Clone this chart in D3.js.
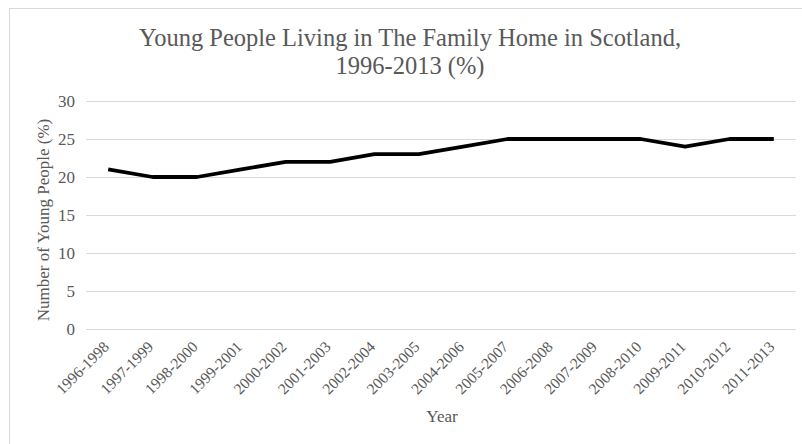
<!DOCTYPE html>
<html>
<head>
<meta charset="utf-8">
<script src="https://cdn.jsdelivr.net/npm/d3@7"></script>
<style>
  body { margin: 0; background: #fff; }
</style>
</head>
<body>
<div id="chart"></div>
<script>
var periods = ['1996-1998', '1997-1999', '1998-2000', '1999-2001', '2000-2002', '2001-2003',
               '2002-2004', '2003-2005', '2004-2006', '2005-2007', '2006-2008', '2007-2009',
               '2008-2010', '2009-2011', '2010-2012', '2011-2013'];
var percents = [21, 20, 20, 21, 22, 22, 23, 23, 24, 25, 25, 25, 25, 24, 25, 25];
var yTicks = [0, 5, 10, 15, 20, 25, 30];

var width = 802, height = 444;
var margin = {top: 101, right: 6, bottom: 115, left: 86};
var serif = '"Liberation Serif", "Times New Roman", serif';
var grey = '#595959';

var svg = d3.select('#chart').append('svg')
            .attr('width', width)
            .attr('height', height);

// outer chart border
svg.append('rect')
   .attr('x', 9.5).attr('y', 8.5)
   .attr('width', width + 10).attr('height', height + 10)
   .style('fill', 'none')
   .style('stroke', '#d9d9d9');

var x = d3.scaleBand()
          .domain(periods)
          .range([margin.left, width - margin.right]);

var y = d3.scaleLinear()
          .domain([0, 30])
          .range([height - margin.bottom, margin.top]);

// gridlines
svg.append('g')
   .selectAll('line')
   .data(yTicks)
   .enter()
   .append('line')
   .attr('x1', margin.left)
   .attr('x2', width - margin.right)
   .attr('y1', function(d) { return Math.round(y(d)) + 0.5; })
   .attr('y2', function(d) { return Math.round(y(d)) + 0.5; })
   .style('stroke', '#d9d9d9')
   .style('stroke-width', 1);

// y axis labels
var yAxis = svg.append('g')
   .attr('transform', 'translate(' + (margin.left - 11) + ',0)')
   .call(d3.axisLeft(y).tickValues(yTicks).tickSize(0).tickPadding(0));
yAxis.select('.domain').remove();
yAxis.selectAll('text')
     .style('font-size', '17px')
     .style('font-family', serif)
     .attr('fill', grey);

// x axis labels
var xAxis = svg.append('g')
   .attr('transform', 'translate(0,' + (height - margin.bottom) + ')')
   .call(d3.axisBottom(x).tickSize(0).tickPadding(0));
xAxis.select('.domain').remove();
xAxis.selectAll('text')
     .style('font-size', '15.5px')
     .style('font-family', serif)
     .attr('fill', grey)
     .style('text-anchor', 'end')
     .attr('y', 0)
     .attr('dy', '0.71em')
     .attr('transform', 'translate(-6,11) rotate(-45)');

// line
var line = d3.line()
             .x(function(d, i) { return x(periods[i]) + x.bandwidth() / 2; })
             .y(function(d) { return y(d); });

svg.append('path')
   .datum(percents)
   .attr('d', line)
   .style('fill', 'none')
   .style('stroke', '#000')
   .style('stroke-width', 3.8)
   .style('stroke-linejoin', 'round');

// titles
function label(xp, yp, size, txt) {
    return svg.append('text')
              .attr('x', xp).attr('y', yp)
              .attr('text-anchor', 'middle')
              .style('font-family', serif)
              .style('font-size', size)
              .style('fill', grey)
              .text(txt);
}
label(410, 46, '24.5px', 'Young People Living in The Family Home in Scotland,');
label(410, 74, '24.5px', '1996-2013 (%)');
label(442, 422, '17px', 'Year');
label(0, 0, '17px', 'Number of Young People (%)')
   .attr('transform', 'translate(49,220) rotate(-90)');
</script>
</body>
</html>
